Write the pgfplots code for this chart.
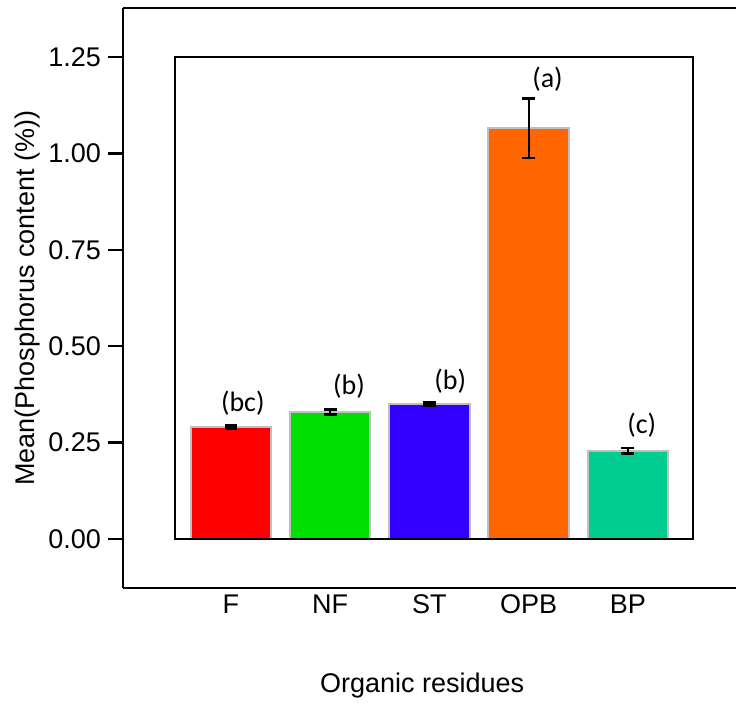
\documentclass[border=0pt]{standalone}
\usepackage{pgfplots}
\pgfplotsset{compat=1.18}
\usepackage{fontspec}
\setmainfont{Liberation Sans}
\newfontfamily\calibri{Carlito}
\definecolor{cF}{RGB}{255,0,0}
\definecolor{cNF}{RGB}{0,224,0}
\definecolor{cST}{RGB}{51,0,255}
\definecolor{cOPB}{RGB}{255,102,0}
\definecolor{cBP}{RGB}{0,204,143}
\begin{document}
\begin{tikzpicture}
\begin{axis}[
  x=49.625pt, y=192.8pt,
  xmin=-1.088, xmax=5.09, ymin=-0.127, ymax=1.377,
  axis x line*=box, axis y line*=left,
  axis line style={line width=1.1pt, -},
  font=\fontsize{13.5}{16}\selectfont,
  ytick={0,0.25,0.5,0.75,1,1.25},
  yticklabel style={/pgf/number format/.cd, fixed, fixed zerofill, precision=2, assume math mode=true},
  ytick style={black, line width=1.1pt},
  major tick length=7.5pt, tick align=outside, ytick pos=left,
  xtick={0,1,2,3,4}, xticklabels={F,NF,ST,OPB,BP},
  xtick style={draw=none},
  xticklabel pos=bottom,
  xticklabel style={yshift=7.5pt},
  ybar, bar width=0.81, bar shift=0pt,
  clip=false,
  xlabel={Organic residues},
  ylabel={Mean(Phosphorus content (\%))},
  xlabel style={at={(axis description cs:0.488,-0.169)}, anchor=center},
  ylabel style={at={(axis description cs:-0.155,0.5)}, anchor=center},
  every axis plot/.append style={draw=gray!50, line width=1pt,
    error bars/y dir=both, error bars/y explicit,
    error bars/error bar style={black, line width=1.1pt},
    error bars/error mark options={rotate=90, black, mark size=3.2pt, line width=1.4pt}},
]
\addplot[fill=cF] coordinates {(0,0.290) +- (0,0.004)};
\addplot[fill=cNF] coordinates {(1,0.329) +- (0,0.006)};
\addplot[fill=cST] coordinates {(2,0.350) +- (0,0.004)};
\addplot[fill=cOPB] coordinates {(3,1.065) +- (0,0.077)};
\addplot[fill=cBP] coordinates {(4,0.229) +- (0,0.007)};
\draw[line width=1.1pt] (axis cs:-0.564,0) rectangle (axis cs:4.655,1.25);
\node[font=\calibri\fontsize{14}{16}\selectfont] at (axis cs:0.12,0.353) {(bc)};
\node[font=\calibri\fontsize{14}{16}\selectfont] at (axis cs:1.19,0.397) {(b)};
\node[font=\calibri\fontsize{14}{16}\selectfont] at (axis cs:2.21,0.410) {(b)};
\node[font=\calibri\fontsize{14}{16}\selectfont] at (axis cs:3.19,1.193) {(a)};
\node[font=\calibri\fontsize{14}{16}\selectfont] at (axis cs:4.14,0.296) {(c)};
\coordinate (bl) at (axis cs:-2.327,-0.428);
\coordinate (tr) at (axis cs:5.09,1.398);
\end{axis}
\pgfresetboundingbox
\path (bl) rectangle (tr);
\end{tikzpicture}
\end{document}
